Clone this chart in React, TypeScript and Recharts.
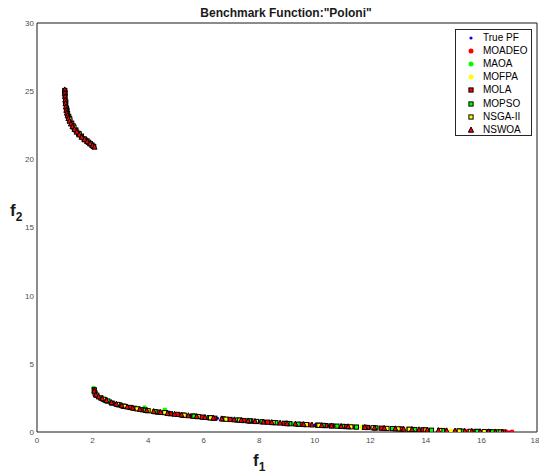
import React from "react";
import {
  ScatterChart,
  Scatter,
  XAxis,
  YAxis,
  CartesianGrid,
} from "recharts";

type Pt = [number, number];

const xTicks = [0, 2, 4, 6, 8, 10, 12, 14, 16, 18];
const yTicks = [0, 5, 10, 15, 20, 25, 30];

const truePF: Pt[] = [
  [1.0, 25.1], [1.01, 24.6], [1.03, 24.1], [1.06, 23.7], [1.11, 23.3], [1.17, 23.0],
  [1.23, 22.7], [1.32, 22.4], [1.41, 22.15], [1.53, 21.85], [1.65, 21.6], [1.77, 21.4],
  [1.89, 21.2], [2.0, 21.0], [2.07, 20.9],
  [2.05, 3.13], [2.08, 2.9], [2.13, 2.75], [2.25, 2.55], [2.4, 2.4], [2.6, 2.22],
  [2.9, 2.02], [3.2, 1.86], [3.6, 1.7], [4.0, 1.56], [4.5, 1.42], [5.0, 1.3],
  [5.5, 1.19], [6.0, 1.08], [6.5, 1.0], [7.0, 0.91], [7.5, 0.83], [8.0, 0.76],
  [8.5, 0.69], [9.0, 0.62], [9.5, 0.56], [10.0, 0.51], [10.5, 0.46], [11.0, 0.41],
  [11.5, 0.36], [12.0, 0.32], [12.5, 0.27], [13.0, 0.23], [13.5, 0.19], [14.0, 0.15],
  [14.5, 0.11], [15.0, 0.08], [15.5, 0.05], [16.0, 0.03], [16.5, 0.01], [17.0, 0.0],
];

const moadeo: Pt[] = [
  [1.0, 25.0], [1.05, 23.9], [1.2, 22.9], [1.45, 22.05], [1.8, 21.35], [2.05, 20.95],
  [2.07, 3.05], [2.3, 2.5], [2.75, 2.1], [3.3, 1.82], [3.9, 1.6], [4.4, 1.45],
  [5.1, 1.28], [5.9, 1.1], [6.7, 0.96], [7.4, 0.85], [8.2, 0.73], [9.1, 0.61],
  [9.8, 0.53], [10.7, 0.44], [11.4, 0.37], [12.2, 0.3], [13.1, 0.22], [13.9, 0.16],
  [14.7, 0.1], [15.5, 0.05], [16.2, 0.02], [16.9, 0.0], [17.1, 0.0],
];

const maoa: Pt[] = [
  [1.0, 25.0], [1.3, 22.5], [1.7, 21.5],
  [2.04, 3.22], [2.6, 2.25], [3.87, 1.78], [4.6, 1.62], [5.8, 1.16], [7.5, 0.84],
  [9.2, 0.6], [11.5, 0.37], [13.8, 0.17], [15.2, 0.07], [16.3, 0.02],
];

const mofpa: Pt[] = [
  [1.02, 24.4], [1.5, 21.9], [1.95, 21.1],
  [2.2, 2.6], [3.0, 1.96], [4.1, 1.54], [5.4, 1.21], [6.9, 0.92], [8.4, 0.71],
  [10.1, 0.5], [11.7, 0.35], [13.3, 0.2], [14.9, 0.08], [16.6, 0.01],
];

const mola: Pt[] = [
  [1.0, 25.05], [1.03, 24.2], [1.08, 23.6], [1.16, 23.0], [1.25, 22.65], [1.4, 22.15],
  [1.6, 21.7], [1.8, 21.35], [1.98, 21.05],
  [2.06, 3.1], [2.45, 2.35], [2.7, 2.12], [3.1, 1.9], [3.35, 1.8], [3.8, 1.63],
  [4.35, 1.46], [4.8, 1.34], [5.05, 1.29], [5.6, 1.17], [5.95, 1.09], [6.4, 1.01],
  [6.95, 0.92], [7.45, 0.84], [7.7, 0.81], [8.3, 0.72], [8.9, 0.64], [9.5, 0.56],
  [10.1, 0.5], [10.4, 0.47], [11.1, 0.4], [11.9, 0.33], [12.4, 0.28], [13.1, 0.22],
  [13.4, 0.19], [13.9, 0.16], [14.6, 0.1], [15.2, 0.07], [15.8, 0.04], [16.3, 0.02],
  [16.8, 0.0],
];

const mopso: Pt[] = [
  [1.01, 24.7], [1.06, 23.75], [1.14, 23.15], [1.3, 22.45], [1.5, 21.9], [1.72, 21.45],
  [1.92, 21.15],
  [2.09, 2.85], [2.3, 2.5], [2.55, 2.27], [2.95, 1.99], [3.5, 1.74], [3.9, 1.6],
  [4.25, 1.49], [4.7, 1.37], [5.25, 1.24], [5.65, 1.16], [6.2, 1.05], [6.7, 0.96],
  [7.2, 0.88], [7.65, 0.81], [8.1, 0.75], [8.6, 0.68], [9.1, 0.61], [9.4, 0.57],
  [10.3, 0.48], [10.8, 0.43], [11.0, 0.41], [11.5, 0.36], [12.2, 0.3], [12.8, 0.25],
  [13.6, 0.18], [14.2, 0.13], [14.6, 0.1], [15.3, 0.06], [15.85, 0.04], [16.4, 0.01],
  [16.6, 0.01],
];

const nsga2: Pt[] = [
  [1.0, 24.9], [1.03, 24.2], [1.1, 23.35], [1.18, 22.95], [1.33, 22.35], [1.52, 21.85],
  [1.7, 21.5], [1.86, 21.25], [2.04, 20.95],
  [2.15, 2.7], [2.4, 2.4], [2.9, 2.02], [3.15, 1.88], [3.6, 1.7], [4.0, 1.56],
  [4.6, 1.42], [5.3, 1.23], [5.8, 1.13], [6.25, 1.04], [6.8, 0.94], [7.3, 0.87],
  [7.9, 0.77], [8.5, 0.69], [9.0, 0.62], [9.7, 0.54], [10.15, 0.49], [10.6, 0.45],
  [11.3, 0.38], [11.8, 0.34], [12.1, 0.31], [12.6, 0.26], [13.0, 0.23], [13.4, 0.2],
  [14.0, 0.15], [14.5, 0.11], [15.2, 0.07], [15.6, 0.05], [16.1, 0.03], [16.7, 0.0],
];

const nswoa: Pt[] = [
  [1.0, 25.1], [1.0, 24.85], [1.01, 24.6], [1.015, 24.35], [1.025, 24.1], [1.04, 23.85],
  [1.055, 23.6], [1.075, 23.4], [1.1, 23.2], [1.13, 23.0], [1.17, 22.8], [1.22, 22.6],
  [1.28, 22.4], [1.35, 22.2], [1.43, 22.0], [1.52, 21.8], [1.61, 21.62], [1.71, 21.45],
  [1.81, 21.3], [1.91, 21.15], [2.0, 21.0], [2.07, 20.9],
  [2.06, 3.0], [2.12, 2.72], [2.22, 2.58], [2.35, 2.45], [2.5, 2.3], [2.68, 2.16],
  [2.86, 2.04], [3.05, 1.94], [3.25, 1.84], [3.45, 1.76], [3.7, 1.67], [3.95, 1.58],
  [4.2, 1.51], [4.45, 1.44], [4.7, 1.37], [4.95, 1.31], [5.2, 1.25], [5.45, 1.2],
  [5.75, 1.14], [6.05, 1.07], [6.35, 1.02], [6.65, 0.97], [7.1, 0.9], [7.35, 0.86],
  [7.6, 0.82], [7.85, 0.78], [8.15, 0.74], [8.45, 0.7], [8.75, 0.66], [9.0, 0.62],
  [9.3, 0.59], [9.6, 0.55], [9.9, 0.52], [10.25, 0.48], [10.6, 0.45], [10.95, 0.41],
  [11.2, 0.39], [11.8, 0.34], [12.15, 0.3], [12.5, 0.27], [12.9, 0.24], [13.2, 0.21],
  [13.5, 0.19], [13.75, 0.17], [14.05, 0.15], [14.45, 0.11], [14.75, 0.09], [15.05, 0.08],
  [15.4, 0.06], [15.65, 0.05], [15.95, 0.03], [16.25, 0.02], [16.5, 0.01], [16.75, 0.0],
];

const toRows = (pts: Pt[]) => pts.map(([f1, f2]) => ({ f1, f2 }));

type Kind = "dot" | "square" | "triangle";

const Marker = ({ kind, color, r }: { kind: Kind; color: string; r: number }) => {
  if (kind === "dot") return <circle cx={0} cy={0} r={r} fill={color} />;
  if (kind === "square")
    return <rect x={-r} y={-r} width={2 * r} height={2 * r} fill={color} stroke="#000" strokeWidth={1} />;
  return (
    <polygon
      points={`0,${-r - 0.4} ${r},${r - 0.4} ${-r},${r - 0.4}`}
      fill={color}
      stroke="#000"
      strokeWidth={1}
    />
  );
};

const makeShape = (kind: Kind, color: string, r: number) => (props: any) => {
  const { cx, cy } = props;
  if (cx == null || cy == null) return <g />;
  return (
    <g transform={`translate(${cx},${cy})`}>
      <Marker kind={kind} color={color} r={r} />
    </g>
  );
};

const series: { name: string; data: Pt[]; kind: Kind; color: string; r: number; lr: number }[] = [
  { name: "True PF", data: truePF, kind: "dot", color: "#0000ff", r: 1.5, lr: 1.6 },
  { name: "MOADEO", data: moadeo, kind: "dot", color: "#ff0000", r: 2.4, lr: 2.5 },
  { name: "MAOA", data: maoa, kind: "dot", color: "#00ff00", r: 2.4, lr: 2.5 },
  { name: "MOFPA", data: mofpa, kind: "dot", color: "#ffff00", r: 2.4, lr: 2.5 },
  { name: "MOLA", data: mola, kind: "square", color: "#ff0000", r: 2.1, lr: 2.1 },
  { name: "MOPSO", data: mopso, kind: "square", color: "#00ff00", r: 2.1, lr: 2.1 },
  { name: "NSGA-II", data: nsga2, kind: "square", color: "#ffff00", r: 2.1, lr: 2.1 },
  { name: "NSWOA", data: nswoa, kind: "triangle", color: "#ff0000", r: 2.5, lr: 2.6 },
];

const tickStyle = { fontSize: 8, fill: "#4d4d4d", fontFamily: "Arial, 'Liberation Sans', sans-serif" };

export default function App() {
  return (
    <div style={{ position: "absolute", left: 0, top: 0, width: 539, height: 473, background: "#fff" }}>
      <ScatterChart width={539} height={473} margin={{ top: 23, right: 2, bottom: 0, left: 0 }}>
        <CartesianGrid stroke="#e3e3e3" />
        <XAxis
          xAxisId="b"
          type="number"
          dataKey="f1"
          domain={[0, 18]}
          ticks={xTicks}
          allowDataOverflow
          height={41}
          tick={tickStyle}
          tickLine={false}
          tickSize={4}
          tickMargin={1}
          axisLine={{ stroke: "#262626" }}
        />
        <XAxis
          xAxisId="t"
          orientation="top"
          type="number"
          dataKey="f1"
          domain={[0, 18]}
          ticks={xTicks}
          mirror
          tick={() => <g />}
          tickSize={3}
          tickLine={{ stroke: "#262626" }}
          axisLine={{ stroke: "#262626" }}
        />
        <YAxis
          yAxisId="l"
          type="number"
          dataKey="f2"
          domain={[0, 30]}
          ticks={yTicks}
          allowDataOverflow
          width={37}
          tick={tickStyle}
          tickLine={false}
          tickSize={2}
          tickMargin={1}
          axisLine={{ stroke: "#262626" }}
        />
        <YAxis
          yAxisId="r"
          orientation="right"
          type="number"
          dataKey="f2"
          domain={[0, 30]}
          ticks={yTicks}
          mirror
          tick={() => <g />}
          tickSize={3}
          tickLine={{ stroke: "#262626" }}
          axisLine={{ stroke: "#262626" }}
        />
        {series.map((s) => (
          <Scatter
            key={s.name}
            name={s.name}
            xAxisId="b"
            yAxisId="l"
            data={toRows(s.data)}
            shape={makeShape(s.kind, s.color, s.r)}
            isAnimationActive={false}
          />
        ))}
      </ScatterChart>
      <svg
        width={539}
        height={473}
        style={{ position: "absolute", left: 0, top: 0, pointerEvents: "none" }}
        fontFamily="Arial, 'Liberation Sans', sans-serif"
      >
        <text x={286} y={17} textAnchor="middle" fontSize={12} fontWeight="bold" fill="#1a1a1a">
          Benchmark Function:"Poloni"
        </text>
        <text x={253} y={466} fontSize={17} fontWeight="bold" fill="#1a1a1a">
          f<tspan fontSize={12} dy={5}>1</tspan>
        </text>
        <text x={10} y={216} fontSize={17} fontWeight="bold" fill="#1a1a1a">
          f<tspan fontSize={12} dy={5}>2</tspan>
        </text>
      </svg>
      <div
        style={{
          position: "absolute",
          left: 455,
          top: 29,
          width: 77,
          height: 107,
          border: "1px solid #262626",
          background: "#fff",
          boxSizing: "border-box",
          fontFamily: "Arial, 'Liberation Sans', sans-serif",
          fontSize: 10,
          color: "#000",
          paddingTop: 1,
        }}
      >
        {series.map((s) => (
          <div key={s.name} style={{ display: "flex", alignItems: "center", height: 13.2 }}>
            <svg width={27} height={12} style={{ flex: "none" }}>
              <g transform="translate(15,6)">
                <Marker kind={s.kind} color={s.color} r={s.lr} />
              </g>
            </svg>
            <span style={{ lineHeight: "12px", whiteSpace: "nowrap" }}>{s.name}</span>
          </div>
        ))}
      </div>
    </div>
  );
}
